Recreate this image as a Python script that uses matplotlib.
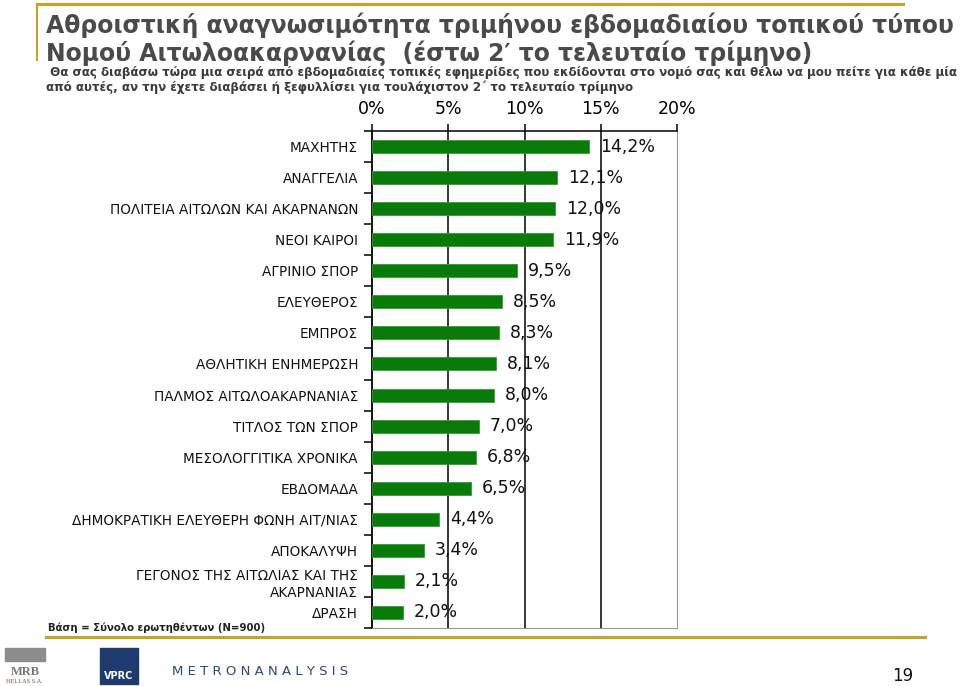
import matplotlib
matplotlib.use("Agg")
import matplotlib.pyplot as plt
from matplotlib.patches import Rectangle
from matplotlib.lines import Line2D

categories = [
    "ΜΑΧΗΤΗΣ", "ΑΝΑΓΓΕΛΙΑ", "ΠΟΛΙΤΕΙΑ ΑΙΤΩΛΩΝ ΚΑΙ ΑΚΑΡΝΑΝΩΝ", "ΝΕΟΙ ΚΑΙΡΟΙ",
    "ΑΓΡΙΝΙΟ ΣΠΟΡ", "ΕΛΕΥΘΕΡΟΣ", "ΕΜΠΡΟΣ", "ΑΘΛΗΤΙΚΗ ΕΝΗΜΕΡΩΣΗ",
    "ΠΑΛΜΟΣ ΑΙΤΩΛΟΑΚΑΡΝΑΝΙΑΣ", "ΤΙΤΛΟΣ ΤΩΝ ΣΠΟΡ", "ΜΕΣΟΛΟΓΓΙΤΙΚΑ ΧΡΟΝΙΚΑ",
    "ΕΒΔΟΜΑΔΑ", "ΔΗΜΟΚΡΑΤΙΚΗ ΕΛΕΥΘΕΡΗ ΦΩΝΗ ΑΙΤ/ΝΙΑΣ", "ΑΠΟΚΑΛΥΨΗ",
    "ΓΕΓΟΝΟΣ ΤΗΣ ΑΙΤΩΛΙΑΣ ΚΑΙ ΤΗΣ\nΑΚΑΡΝΑΝΙΑΣ", "ΔΡΑΣΗ",
]
values = [14.2, 12.1, 12.0, 11.9, 9.5, 8.5, 8.3, 8.1, 8.0, 7.0, 6.8, 6.5, 4.4, 3.4, 2.1, 2.0]
xticks = [0, 5, 10, 15, 20]
xticklabels = ["0%", "5%", "10%", "15%", "20%"]

title_lines = ["Αθροιστική αναγνωσιμότητα τριμήνου εβδομαδιαίου τοπικού τύπου",
               "Νομού Αιτωλοακαρνανίας  (έστω 2′ το τελευταίο τρίμηνο)"]
subtitle_lines = [" Θα σας διαβάσω τώρα μια σειρά από εβδομαδιαίες τοπικές εφημερίδες που εκδίδονται στο νομό σας και θέλω να μου πείτε για κάθε μία",
                  "από αυτές, αν την έχετε διαβάσει ή ξεφυλλίσει για τουλάχιστον 2΄ το τελευταίο τρίμηνο"]
base_text = "Βάση = Σύνολο ερωτηθέντων (N=900)"
page_no = "19"

W, H = 960, 686
fig = plt.figure(figsize=(9.6, 6.86), dpi=100)
fig.patch.set_facecolor("white")

def px(x, y):
    return x / W, 1 - y / H

renderer = fig.canvas.get_renderer()

def fit_size(s, target_w, size=10, **kw):
    t = fig.text(0, 0, s, fontsize=size, **kw)
    bb = t.get_window_extent(renderer=renderer)
    t.remove()
    return size * target_w / bb.width

gold = "#C9A227"
fig.add_artist(Line2D([37 / W, 903 / W], [1 - 4 / H, 1 - 4 / H], color=gold, lw=2.2))
fig.add_artist(Line2D([37 / W, 37 / W], [1 - 4 / H, 1 - 60 / H], color=gold, lw=1.5))
fig.add_artist(Line2D([46 / W, 925 / W], [1 - 637 / H, 1 - 637 / H], color=gold, lw=2.2))

tkw = dict(family="DejaVu Sans", weight="bold", color="#4A4A4A", va="baseline")
ts = fit_size(title_lines[0], 910, **tkw)
fig.text(*px(46, 33), title_lines[0], fontsize=ts, **tkw)
fig.text(*px(46, 61), title_lines[1], fontsize=ts, **tkw)

skw = dict(family="DejaVu Sans", weight="bold", color="#3A3A3A", va="baseline")
ss = fit_size(subtitle_lines[0], 912, **skw)
fig.text(*px(46, 76), subtitle_lines[0], fontsize=ss, **skw)
fig.text(*px(46, 91), subtitle_lines[1], fontsize=ss, **skw)

ax = fig.add_axes([372 / W, 1 - 628 / H, (677 - 372) / W, (628 - 131) / H])
y = list(range(len(categories)))
ax.barh(y, values, height=0.42, color="#0A7A0A", edgecolor="#2E9E2E", linewidth=0.6, zorder=3)
ax.set_ylim(len(categories) - 0.5, -0.5)
ax.set_xlim(0, 20)

for xv in xticks[1:-1]:
    ax.axvline(xv, color="black", lw=1.1, zorder=1)

ax.xaxis.tick_top()
ax.set_xticks(xticks)
ax.set_xticklabels(xticklabels, fontsize=12.5, family="DejaVu Sans")
ax.tick_params(axis="x", direction="out", length=5, width=1.1, pad=4, color="black")

ax.set_yticks(y)
ax.set_yticklabels(categories, fontsize=9.8, family="DejaVu Sans", color="#111111", linespacing=1.25)
ax.tick_params(axis="y", which="major", length=0, pad=10)
ax.set_yticks([i - 0.5 for i in range(len(categories) + 1)], minor=True)
ax.tick_params(axis="y", which="minor", direction="out", length=6, width=1.1, color="black")

ax.spines["left"].set_color("black")
ax.spines["left"].set_linewidth(1.3)
ax.spines["top"].set_color("black")
ax.spines["top"].set_linewidth(1.1)
ax.spines["right"].set_color("#999999")
ax.spines["bottom"].set_color("#999999")

for i, v in enumerate(values):
    ax.annotate(f"{v:.1f}".replace(".", ",") + "%", (v, i), xytext=(8, 0),
                textcoords="offset points", va="center", ha="left",
                fontsize=12.5, family="DejaVu Sans", color="#111111", zorder=4)

bkw = dict(family="DejaVu Sans", weight="bold", color="#222222", va="baseline")
bs = fit_size(base_text, 217, **bkw)
fig.text(*px(48, 631), base_text, fontsize=bs, **bkw)

# logos
fig.add_artist(Rectangle(px(5, 661), 40 / W, 13 / H, color="#8C8C8C", transform=fig.transFigure))
fig.text(*px(25, 675), "MRB", fontsize=9, weight="bold", family="Liberation Serif",
         color="#777777", ha="center", va="baseline")
fig.text(*px(25, 683), "HELLAS S.A.", fontsize=4.5, family="Liberation Serif",
         color="#994444", ha="center", va="baseline")
fig.add_artist(Rectangle(px(100, 684), 38 / W, 36 / H, color="#1E3A6E", transform=fig.transFigure))
fig.text(*px(119, 679), "VPRC", fontsize=7, weight="bold", color="white", ha="center", va="baseline")
mkw = dict(family="DejaVu Sans", color="#2B4A7A", va="baseline")
ms = fit_size("M E T R O N A N A L Y S I S", 175, **mkw)
fig.text(*px(172, 675), "M E T R O N A N A L Y S I S", fontsize=ms, **mkw)

fig.text(*px(903, 681), page_no, fontsize=12, color="#111111", ha="center", va="baseline")

fig.savefig("out.png", dpi=100)
